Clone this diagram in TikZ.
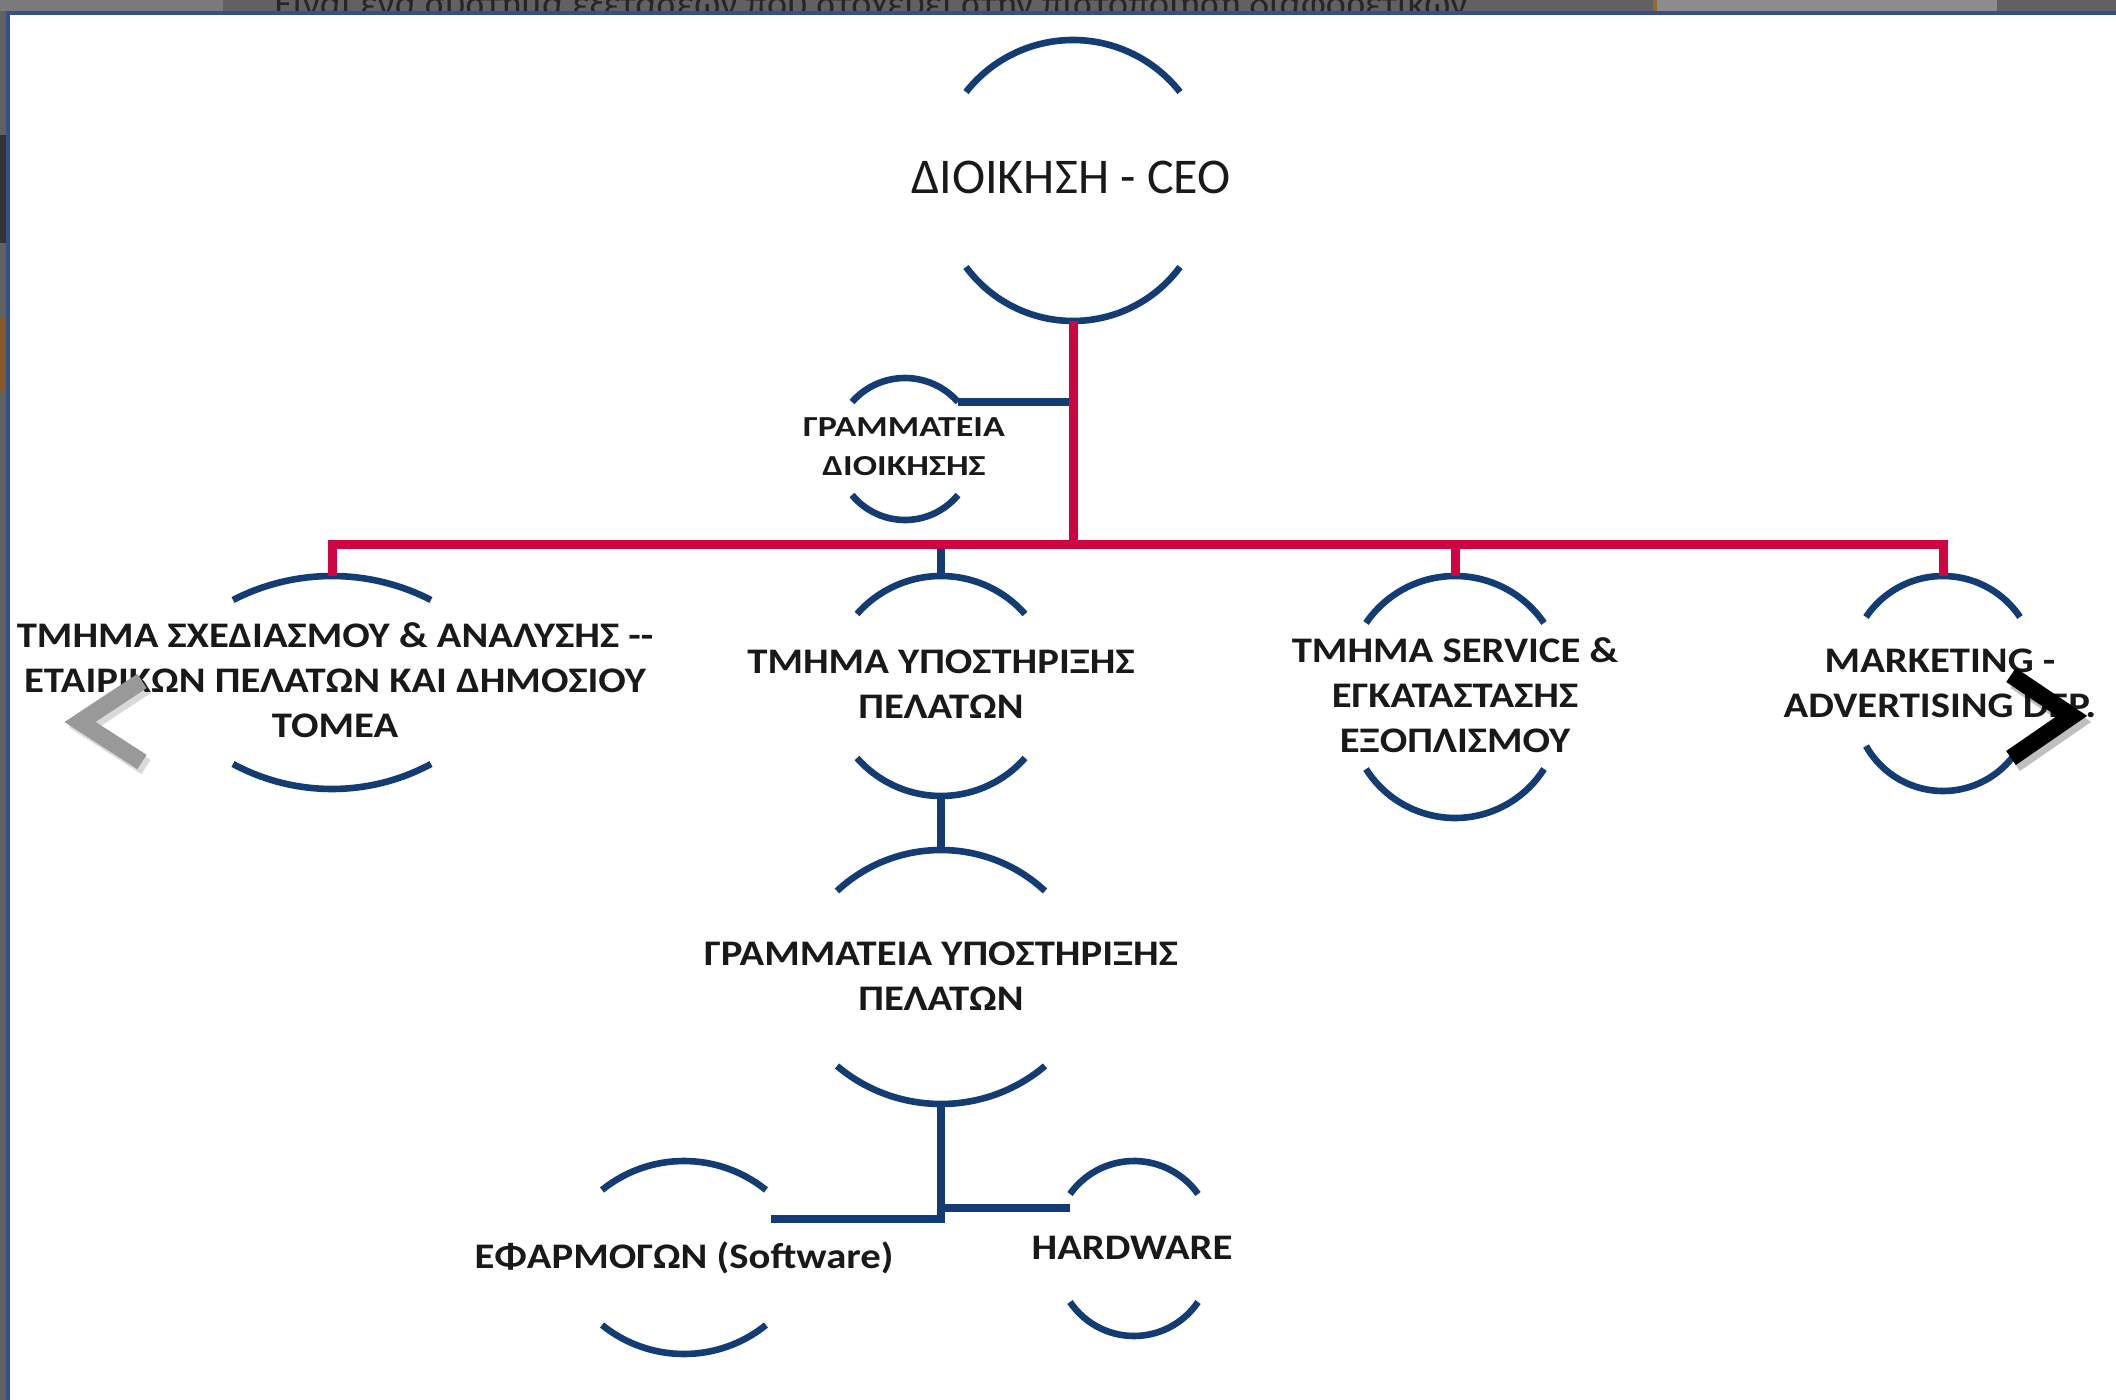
\documentclass[tikz,border=0pt]{standalone}
\usepackage{fontspec}
\setmainfont{Carlito}
\newfontfamily\condfont[FakeStretch=1.13]{Carlito}
\newfontfamily\secondfont[FakeStretch=1.24]{Carlito}
\definecolor{navy}{RGB}{18,60,115}
\definecolor{crim}{RGB}{205,5,65}
\definecolor{txt}{RGB}{25,25,25}
\definecolor{frameblue}{RGB}{50,80,140}
\newcommand\OrgArcs[7]{%
  \pgfmathsetmacro\orgRt{(#5/#6*#5+#6)/2}%
  \pgfmathsetmacro\orgAt{asin(#5/\orgRt)}%
  \pgfmathsetmacro\orgRb{(#5/#7*#5+#7)/2}%
  \pgfmathsetmacro\orgAb{asin(#5/\orgRb)}%
  \coordinate (#1-t) at (#2,#3);
  \coordinate (#1-b) at (#2,#4);
  \coordinate (#1-tl) at ({#2-#5},{#3+#6});
  \coordinate (#1-tr) at ({#2+#5},{#3+#6});
  \coordinate (#1-bl) at ({#2-#5},{#4-#7});
  \draw[arcl] (#1-tl) arc[start angle={270-\orgAt}, end angle={270+\orgAt}, radius=\orgRt];
  \draw[arcl] (#1-bl) arc[start angle={90+\orgAb}, end angle={90-\orgAb}, radius=\orgRb];
}
\begin{document}
\begin{tikzpicture}[x=0.5pt,y=-0.5pt,
  arcl/.style={draw=navy,line width=3.3pt},
  bluel/.style={draw=navy,line width=3.8pt},
  redl/.style={draw=crim,line width=4.5pt},
  dept/.style={text=txt,align=center,inner sep=0pt,font=\condfont\bfseries\fontsize{18}{22.5}\selectfont},
  secfont/.style={text=txt,align=center,inner sep=0pt,font=\secondfont\bfseries\fontsize{14.5}{19.5}\selectfont},
  chev/.style={line width=8.5pt,line join=miter,line cap=butt}]
\useasboundingbox (0,0) rectangle (2116,1400);
% screen frame
\fill[black!62] (0,0) rectangle (2116,1400);
\fill[black!52] (0,0) rectangle (223,11);
\fill[black!80] (0,135) rectangle (6,243);
\fill[brown!70!black] (0,317) rectangle (6,391);
\fill[black!45] (1653,0) rectangle (1997,11);
\fill[brown!80!black] (1653,0) rectangle (1657,11);
\begin{scope}
  \clip (0,0) rectangle (2116,11);
  \node[anchor=base west,inner sep=0pt,text=black!85,font=\fontsize{19}{22}\selectfont] (strip) at (274,17) {Είναι ένα σύστημα εξετάσεων που στοχεύει στην πιστοποίηση διαφορετικών};
\end{scope}
\fill[frameblue] (6,11) rectangle (2116,1400);
\fill[white] (10,15) rectangle (2116,1400);

% arcs (name, cx, top, bottom, half-width, top depth, bottom depth)
\OrgArcs{ceo}{1073}{40}{321}{107}{52}{54}
\OrgArcs{sec}{905}{378}{520}{53}{24}{25}
\OrgArcs{A}{332}{576}{789}{99}{24}{25}
\OrgArcs{B}{941}{576}{796}{84}{38}{38}
\OrgArcs{C}{941}{850}{1104}{104}{41}{38}
\OrgArcs{D}{684}{1161}{1354}{82}{29}{29}
\OrgArcs{E}{1134}{1161}{1336}{64}{33}{34}
\OrgArcs{F}{1455}{576}{818}{89}{47}{49}
\OrgArcs{G}{1943}{576}{791}{77}{41}{45}

% texts
\node[text=txt,inner sep=0pt,font=\fontsize{25}{30}\selectfont] (ceo) at (1071,177) {ΔΙΟΙΚΗΣΗ - CEO};
\node[secfont] (sec) at (904,447) {ΓΡΑΜΜΑΤΕΙΑ\\ΔΙΟΙΚΗΣΗΣ};
\node[dept] (A) at (335,680) {ΤΜΗΜΑ ΣΧΕΔΙΑΣΜΟΥ \& ΑΝΑΛΥΣΗΣ -{}-\\ΕΤΑΙΡΙΚΩΝ ΠΕΛΑΤΩΝ ΚΑΙ ΔΗΜΟΣΙΟΥ\\ΤΟΜΕΑ};
\node[dept] (B) at (941,684) {ΤΜΗΜΑ ΥΠΟΣΤΗΡΙΞΗΣ\\ΠΕΛΑΤΩΝ};
\node[dept] (C) at (941,976) {ΓΡΑΜΜΑΤΕΙΑ ΥΠΟΣΤΗΡΙΞΗΣ\\ΠΕΛΑΤΩΝ};
\node[dept] (D) at (684,1258) {ΕΦΑΡΜΟΓΩΝ (Software)};
\node[dept] (E) at (1132,1248) {HARDWARE};
\node[dept] (F) at (1455,695) {ΤΜΗΜΑ SERVICE \&\\ΕΓΚΑΤΑΣΤΑΣΗΣ\\ΕΞΟΠΛΙΣΜΟΥ};
\node[dept] (G) at (1940,683) {MARKETING -\\ADVERTISING DEP.};

% connectors
\coordinate (bus) at (1073,545);
\coordinate (D-c) at (771,1219);
\coordinate (E-c) at (1070,1208);
\draw[bluel] (sec-tr) -- (sec-tr -| ceo-b);
\draw[bluel] (B-t) -- (B-t |- bus);
\draw[redl] (ceo-b) -- (bus);
\draw[redl] (A-t) |- (bus) -| (G-t);
\draw[redl] (F-t) -- (F-t |- bus);
\draw[bluel] (B-b) -- (C-t);
\draw[bluel] (C-b) |- (D-c);
\draw[bluel] (E-c) -- (E-c -| C-b);

% slide navigation chevrons
\draw[chev,black,opacity=0.15] (146,686) -- (84,727) -- (146,767);
\draw[chev,black!40] (142,681) -- (80,722) -- (142,762);
\draw[chev,black,opacity=0.25] (2015,681) -- (2076,722) -- (2015,764);
\draw[chev,black] (2011,675) -- (2072,716) -- (2011,758);
\end{tikzpicture}
\end{document}
